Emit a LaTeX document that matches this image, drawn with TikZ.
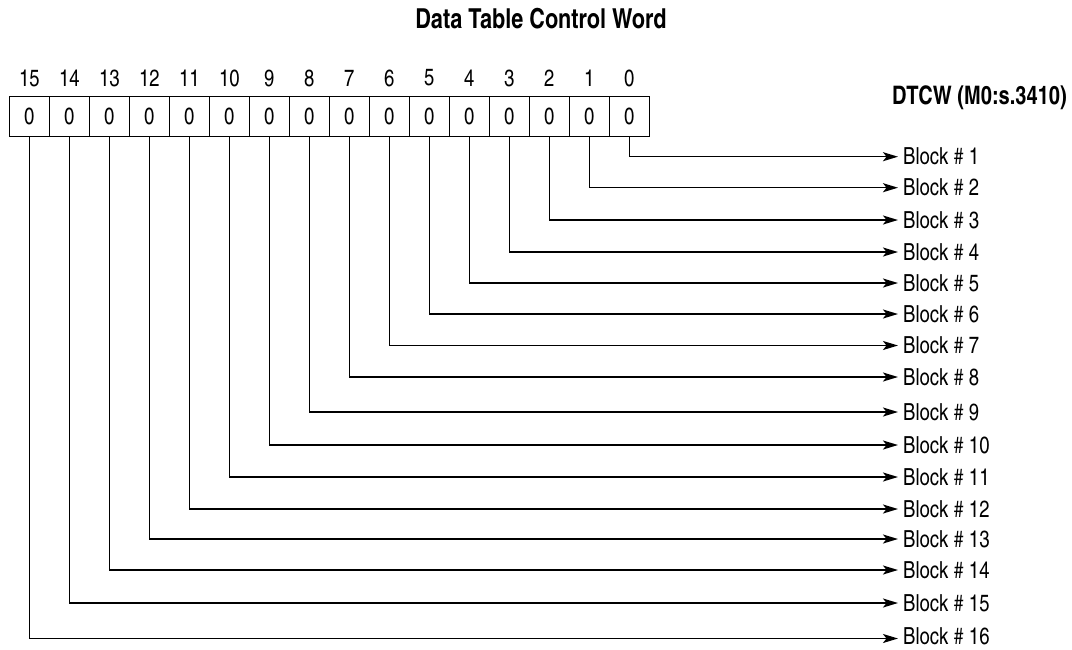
\documentclass[tikz,border=0pt]{standalone}
\usepackage{fontspec}
\setmainfont{texgyreheroscn}[Extension=.otf,UprightFont=*-regular,BoldFont=*-bold,FakeStretch=0.96]
\usetikzlibrary{arrows.meta}
\begin{document}
\begin{tikzpicture}[x=1pt,y=-1pt,
  cell/.style={draw,line width=1.5pt,minimum width=40pt,minimum height=40pt,inner sep=0pt,font=\fontsize{23.5}{28}\selectfont},
  bitnum/.style={inner sep=0pt,font=\fontsize{23.5}{28}\selectfont},
  blocklbl/.style={anchor=west,inner xsep=5pt,inner ysep=0pt,font=\fontsize{23.5}{28}\selectfont},
  conn/.style={line width=1.5pt,-{Stealth[length=15pt,width=9pt,inset=3.5pt]}},
  ttl/.style={inner sep=0pt,font=\bfseries\fontsize{27.5}{32}\selectfont}]
\useasboundingbox (0,0) rectangle (1072,649);
\node[ttl] (title) at (541,18.5) {Data Table Control Word};
\node[ttl,anchor=east,font=\bfseries\fontsize{25.5}{30}\selectfont] (dtcw) at (1067,98) {DTCW (M0:s.3410)};
\foreach \k in {0,...,15}{
  \pgfmathsetmacro{\cx}{29.3+40*(15-\k)}
  \node[cell] (c\k) at (\cx,116.7) {0};
  \node[bitnum] (n\k) at (\cx,78) {\k};
}
\foreach \j/\yy in {1/156.7,2/187.7,3/220,4/252,5/283,6/314,7/345.5,8/377,9/412,10/445,11/477,12/509,13/539,14/570,15/603}{
  \node[blocklbl] (b\j) at (898,\yy) {Block \# \j};
}
\node[blocklbl] (b16) at (898,636) {Block \# 16};
\foreach \k in {0,...,14}{
  \pgfmathtruncatemacro{\j}{\k+1}
  \draw[conn] (c\k.south) |- (b\j.west);
}
\draw[conn] (c15.south) |- ([yshift=-2.5pt]b16.west);
\end{tikzpicture}
\end{document}
